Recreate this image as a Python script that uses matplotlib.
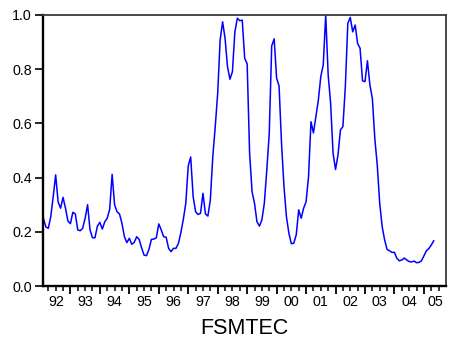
import matplotlib
matplotlib.use("Agg")
import matplotlib.pyplot as plt
import numpy as np

# Monthly FSMTEC index, February 1992 through May 2005
start_year = 1992
start_month = 2
fsmtec = [
    0.25, 0.218, 0.213, 0.256, 0.33, 0.41, 0.31, 0.287, 0.327, 0.287,
    0.24, 0.23, 0.272, 0.266, 0.207, 0.204, 0.213, 0.25, 0.30, 0.207,
    0.178, 0.178, 0.221, 0.235, 0.21, 0.237, 0.25, 0.283, 0.412, 0.30,
    0.274, 0.266, 0.231, 0.182, 0.16, 0.176, 0.154, 0.161, 0.182, 0.172,
    0.141, 0.114, 0.112, 0.135, 0.172, 0.173, 0.178, 0.229, 0.207, 0.182,
    0.18, 0.139, 0.127, 0.139, 0.139, 0.157, 0.197, 0.246, 0.305, 0.443,
    0.476, 0.33, 0.274, 0.264, 0.268, 0.342, 0.266, 0.258, 0.317, 0.477,
    0.588, 0.711, 0.908, 0.975, 0.914, 0.809, 0.763, 0.791, 0.938, 0.988,
    0.979, 0.981, 0.84, 0.82, 0.49, 0.348, 0.305, 0.237, 0.221, 0.244,
    0.305, 0.428, 0.563, 0.886, 0.912, 0.767, 0.738, 0.527, 0.367, 0.256,
    0.195, 0.156, 0.158, 0.189, 0.281, 0.25, 0.287, 0.311, 0.403, 0.606,
    0.565, 0.625, 0.686, 0.773, 0.816, 1.0, 0.779, 0.674, 0.49, 0.43,
    0.483, 0.576, 0.588, 0.736, 0.969, 0.991, 0.938, 0.963, 0.895, 0.877,
    0.757, 0.754, 0.831, 0.742, 0.692, 0.545, 0.446, 0.305, 0.219, 0.17,
    0.135, 0.13, 0.124, 0.124, 0.102, 0.093, 0.096, 0.103, 0.096, 0.09,
    0.089, 0.092, 0.086, 0.087, 0.093, 0.111, 0.13, 0.138, 0.151, 0.167,
]
years = list(range(1992, 2006))
year_labels = ["92", "93", "94", "95", "96", "97", "98", "99",
               "00", "01", "02", "03", "04", "05"]
y_ticks = [0.0, 0.2, 0.4, 0.6, 0.8, 1.0]

plt.rcParams["font.family"] = ["Liberation Sans", "DejaVu Sans"]

# time in fractional years
t = start_year + (start_month - 1) / 12 + np.arange(len(fsmtec)) / 12
x_lo, x_hi = 1992.07, 2005.75

fig = plt.figure(figsize=(4.49, 3.42), dpi=100)
ax = fig.add_axes([43 / 449, 1 - 286 / 342, (446 - 43) / 449, (286 - 15) / 342])
ax.plot(t, fsmtec, color="#0000ff", lw=1.1)

ax.set_xlim(x_lo, x_hi)
ax.set_ylim(0, 1.0)

# y axis
ax.set_yticks(y_ticks)
ax.set_yticklabels([f"{v:.1f}" for v in y_ticks])
ax.tick_params(axis="y", direction="out", length=6, width=1.2, pad=2,
               labelsize=10.3, colors="black")

# x axis: long ticks at year starts, short ticks at quarters, labels mid-year
major = [y for y in years if x_lo < y < x_hi]
minor = [y + q / 4 for y in years for q in (1, 2, 3) if x_lo < y + q / 4 < x_hi]
ax.set_xticks(major)
ax.set_xticks(minor, minor=True)
ax.set_xticklabels([])
ax.tick_params(axis="x", which="major", direction="out", length=6, width=1.3)
ax.tick_params(axis="x", which="minor", direction="out", length=3.5, width=1.1)

for yr, lab in zip(years, year_labels):
    a = max(yr, x_lo)
    b = min(yr + 1, x_hi)
    ax.text((a + b) / 2, -0.032, lab, transform=ax.get_xaxis_transform(),
            ha="center", va="top", fontsize=10.3)

for side in ("left", "bottom"):
    ax.spines[side].set_linewidth(1.7)
    ax.spines[side].set_color("black")
for side in ("top", "right"):
    ax.spines[side].set_linewidth(1.3)
    ax.spines[side].set_color("#3a3a3a")

fig.text(244 / 449, 1 - 329 / 342, "FSMTEC", ha="center", va="center",
         fontsize=15.5)

fig.savefig("out.png", dpi=100)
